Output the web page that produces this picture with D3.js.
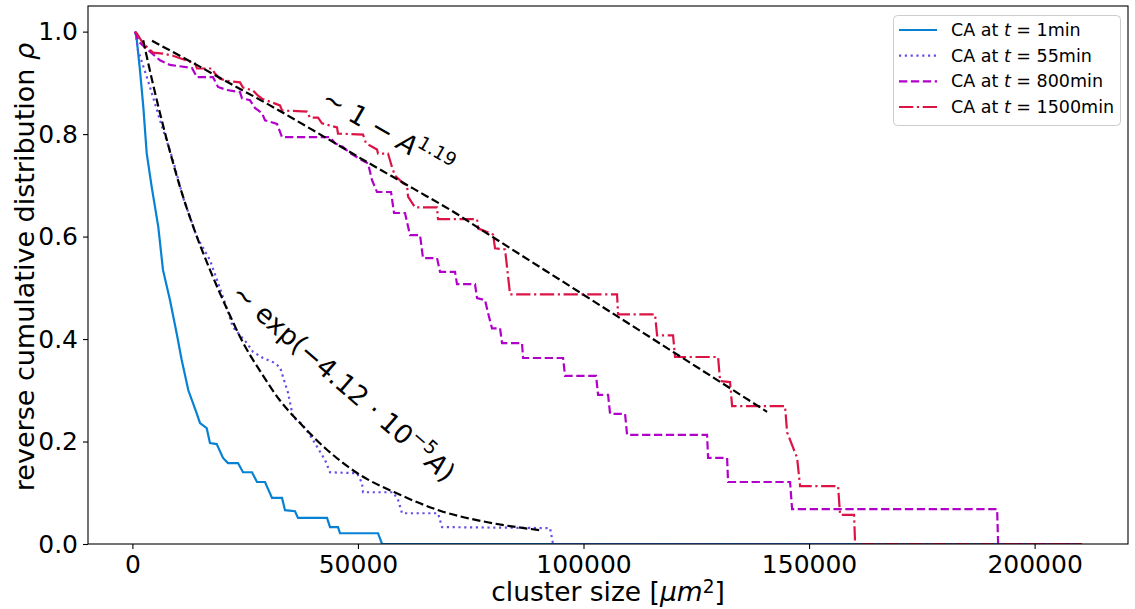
<!DOCTYPE html>
<html>
<head>
<meta charset="utf-8">
<script src="https://cdn.jsdelivr.net/npm/d3@7"></script>
<style>
  body { margin: 0; background: #fff; }
  text { font-family: "DejaVu Sans", sans-serif; }
</style>
</head>
<body>
<script>
// reverse cumulative distributions, [cluster size, rho]
const caT1 = [[600,1.0],[900,0.99],[1680,0.925],[2420,0.853],[3170,0.763],[4280,0.697],[5740,0.619],[6780,0.535],
  [8330,0.476],[9820,0.411],[10930,0.359],[12400,0.300],[14260,0.255],[14990,0.236],[16470,0.226],[17200,0.197],
  [18690,0.195],[20090,0.168],[21190,0.158],[23410,0.158],[24520,0.140],[26520,0.140],[27620,0.121],[29400,0.121],
  [30950,0.090],[33170,0.090],[33830,0.066],[36050,0.064],[36710,0.051],[43140,0.051],[43810,0.033],[45580,0.033],
  [46030,0.021],[54450,0.021],[55340,0],[210500,0]];

const caT55 = [[600,1.0],[1240,0.964],[3900,0.892],[6120,0.827],[9000,0.749],[11220,0.677],[14320,0.599],[17200,0.554],
  [20090,0.482],[22300,0.423],[25410,0.392],[26740,0.375],[28960,0.363],[31170,0.355],[32720,0.345],[34500,0.295],
  [35600,0.248],[37820,0.232],[40040,0.203],[42700,0.164],[43810,0.140],[49790,0.138],[50900,0.119],[51130,0.101],
  [57780,0.101],[58890,0.086],[59770,0.060],[67750,0.060],[68640,0.033],[92580,0.031],[93250,0],[210500,0]];

const caT800 = [[600,1.0],[1020,0.989],[1680,0.978],[6120,0.944],[8330,0.935],[13210,0.929],[14320,0.911],[17870,0.911],
  [18980,0.892],[20970,0.886],[23850,0.882],[24300,0.870],[26070,0.866],[27180,0.851],[28730,0.841],[29400,0.827],
  [32060,0.820],[33170,0.794],[43810,0.794],[44920,0.782],[46690,0.775],[48240,0.763],[50900,0.749],[52240,0.743],
  [53120,0.710],[54230,0.687],[57330,0.687],[58000,0.646],[60430,0.646],[61540,0.603],[63760,0.603],[64420,0.558],
  [67530,0.558],[68200,0.531],[71520,0.531],[71960,0.507],[75950,0.507],[76400,0.480],[78170,0.476],[78840,0.451],
  [79720,0.421],[81500,0.421],[81940,0.392],[86370,0.392],[86600,0.363],[95470,0.363],[95910,0.328],[102790,0.328],
  [103230,0.291],[105450,0.291],[105890,0.254],[109210,0.254],[109660,0.213],[127390,0.213],[127620,0.168],
  [131830,0.168],[132050,0.121],[145790,0.121],[146240,0.068],[191690,0.068],[191910,0],[210500,0]];

const caT1500 = [[600,1.0],[1020,0.996],[2350,0.977],[4570,0.959],[6780,0.957],[9000,0.953],[13880,0.938],[14320,0.928],
  [17650,0.928],[18310,0.918],[19420,0.908],[20970,0.904],[23850,0.901],[24520,0.891],[26740,0.885],[27850,0.875],
  [28730,0.869],[32720,0.856],[33170,0.846],[38710,0.844],[39370,0.832],[41150,0.832],[42030,0.821],[45360,0.813],
  [45580,0.801],[51130,0.799],[51790,0.782],[54230,0.770],[54450,0.762],[56670,0.762],[57560,0.735],[58220,0.719],
  [59990,0.704],[60880,0.700],[61100,0.678],[62650,0.657],[67530,0.657],[67750,0.634],[76400,0.634],[76620,0.616],
  [79950,0.604],[80390,0.577],[82610,0.575],[83720,0.487],[107440,0.487],[107660,0.448],[115860,0.448],[116310,0.407],
  [119850,0.407],[120300,0.365],[129830,0.365],[130280,0.318],[132490,0.316],[132940,0.269],[144680,0.269],
  [145130,0.218],[147350,0.168],[148010,0.113],[156430,0.113],[156880,0.057],[159980,0.057],[160210,0],[210500,0]];

// fitted curves
const fitPower = [[4350,0.982],[13430,0.939],[20970,0.902],[30510,0.856],[40920,0.803],[51130,0.750],[62210,0.694],
  [71960,0.644],[77060,0.615],[99900,0.487],[119850,0.375],[140690,0.258]];
const fitExp = [[2400,0.983],[4630,0.895],[7600,0.790],[10550,0.697],[13500,0.619],[17200,0.535],[20900,0.460],
  [24590,0.392],[28500,0.335],[32720,0.280],[37160,0.236],[43000,0.185],[49730,0.139],[59330,0.096],[68200,0.065],
  [79000,0.042],[90370,0.027]];

const legendTimes = ["1", "55", "800", "1500"];
const xTicks = [0, 50000, 100000, 150000, 200000];
const yTicks = [0, 0.2, 0.4, 0.6, 0.8, 1.0];

const width = 1135, height = 609;
const plotLeft = 88, plotRight = 1128, plotTop = 6, plotBottom = 544;

const x = d3.scaleLinear().domain([-9840, 220700]).range([plotLeft, plotRight]);
const y = d3.scaleLinear().domain([0, 1.05]).range([plotBottom, plotTop]);

const svg = d3.create("svg")
    .attr("width", width)
    .attr("height", height);

svg.append("rect").attr("width", width).attr("height", height).attr("fill", "#fff");

svg.append("clipPath").attr("id", "plot-clip")
  .append("rect")
    .attr("x", plotLeft).attr("y", plotTop)
    .attr("width", plotRight - plotLeft).attr("height", plotBottom - plotTop);

const series = [
    { data: caT1,    color: "#0781d3", dash: null },
    { data: caT55,   color: "#6a4de8", dash: "2.2,3.6" },
    { data: caT800,  color: "#b100c9", dash: "8.3,3.6" },
    { data: caT1500, color: "#dc1446", dash: "14.3,3.6,2.2,3.6" }
];

const line = d3.line().x(d => x(d[0])).y(d => y(d[1]));
const smooth = d3.line().x(d => x(d[0])).y(d => y(d[1])).curve(d3.curveMonotoneX);

const plot = svg.append("g").attr("clip-path", "url(#plot-clip)");

plot.selectAll("path.series")
    .data(series)
    .join("path")
    .attr("class", "series")
    .attr("d", d => line(d.data))
    .attr("fill", "none")
    .attr("stroke", d => d.color)
    .attr("stroke-width", 2.2)
    .attr("stroke-dasharray", d => d.dash);

plot.selectAll("path.fit")
    .data([fitPower, fitExp])
    .join("path")
    .attr("class", "fit")
    .attr("d", smooth)
    .attr("fill", "none")
    .attr("stroke", "#000")
    .attr("stroke-width", 2.2)
    .attr("stroke-dasharray", "8.3,3.6");

// axes
const xAxis = svg.append("g")
    .attr("transform", `translate(0,${plotBottom})`)
    .call(d3.axisBottom(x).tickValues(xTicks).tickSize(5).tickPadding(6).tickFormat(d3.format("d")));
const yAxis = svg.append("g")
    .attr("transform", `translate(${plotLeft},0)`)
    .call(d3.axisLeft(y).tickValues(yTicks).tickSize(5).tickPadding(5).tickFormat(d3.format(".1f")));

[xAxis, yAxis].forEach(a => {
    a.select(".domain").remove();
    a.selectAll(".tick line").attr("stroke", "#000").attr("stroke-width", 1.1);
    a.selectAll(".tick text").attr("fill", "#000").attr("font-size", 25)
        .style("font-family", "'DejaVu Sans', sans-serif");
});

svg.append("rect")
    .attr("x", plotLeft).attr("y", plotTop)
    .attr("width", plotRight - plotLeft).attr("height", plotBottom - plotTop)
    .attr("fill", "none")
    .attr("stroke", "#000")
    .attr("stroke-width", 1.1);

// axis labels
const xLabel = svg.append("text")
    .attr("x", (plotLeft + plotRight) / 2).attr("y", 601)
    .attr("text-anchor", "middle")
    .attr("font-size", 26.5);
xLabel.append("tspan").text("cluster size [");
xLabel.append("tspan").attr("font-style", "italic").text("μm");
xLabel.append("tspan").attr("font-size", "70%").attr("dy", "-0.45em").text("2");
xLabel.append("tspan").attr("dy", "0.3em").text("]");

const yLabel = svg.append("text")
    .attr("transform", `translate(34,${(plotTop + plotBottom) / 2 - 8}) rotate(-90)`)
    .attr("text-anchor", "middle")
    .attr("font-size", 27);
yLabel.append("tspan").text("reverse cumulative distribution ");
yLabel.append("tspan").attr("font-style", "italic").text("ρ");

// annotations
const ann1 = svg.append("g")
    .attr("transform", `translate(${x(41600)},${y(0.859)}) rotate(30)`)
  .append("text").attr("font-size", 26.5);
ann1.append("tspan").text("∼ 1 − ");
ann1.append("tspan").attr("font-style", "italic").text("A");
ann1.append("tspan").attr("font-size", "70%").attr("dy", "-0.6em").text("1.19");

const ann2 = svg.append("g")
    .attr("transform", `translate(${x(21640)},${y(0.484)}) rotate(41)`)
  .append("text").attr("font-size", 26.5);
ann2.append("tspan").text("∼ exp(−4.12 · 10");
ann2.append("tspan").attr("font-size", "70%").attr("dy", "-0.6em").text("−5");
ann2.append("tspan").attr("font-style", "italic").attr("dy", "0.42em").text("A");
ann2.append("tspan").text(")");

// legend
const legend = svg.append("g");
legend.append("rect")
    .attr("x", 893.5).attr("y", 15.5)
    .attr("width", 227).attr("height", 110)
    .attr("rx", 4)
    .attr("fill", "#fff").attr("fill-opacity", 0.8)
    .attr("stroke", "#cccccc");

const rowY = d3.scaleLinear().domain([0, 3]).range([30, 107]);
const item = legend.selectAll("g.item")
    .data(series)
    .join("g")
    .attr("class", "item")
    .attr("transform", (d, i) => `translate(0,${rowY(i)})`);

item.append("line")
    .attr("x1", 899).attr("x2", 937)
    .attr("stroke", d => d.color)
    .attr("stroke-width", 2.2)
    .attr("stroke-dasharray", d => d.dash);

const label = item.append("text")
    .attr("x", 951).attr("y", 6)
    .attr("font-size", 17.5);
label.append("tspan").text("CA at ");
label.append("tspan").attr("font-style", "italic").text("t");
label.append("tspan").text((d, i) => " = " + legendTimes[i] + "min");

document.body.appendChild(svg.node());
</script>
</body>
</html>
